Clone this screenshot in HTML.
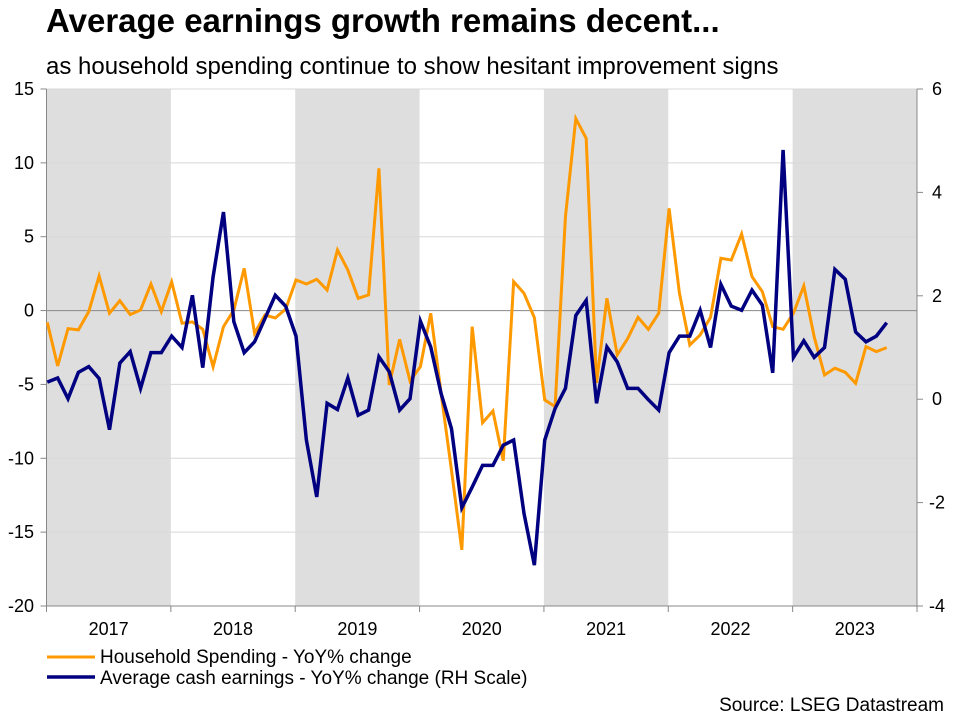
<!DOCTYPE html>
<html><head><meta charset="utf-8">
<style>
body{margin:0;background:#fff;width:954px;height:716px;overflow:hidden;font-family:"Liberation Sans",Arial,sans-serif;}
svg{position:absolute;left:0;top:0}
</style></head>
<body>
<svg id="c" width="954" height="716">
<text x="46" y="32" font-size="33" font-weight="bold" fill="#000">Average earnings growth remains decent...</text>
<text x="46" y="74" font-size="24" fill="#000">as household spending continue to show hesitant improvement signs</text>
<g id="bands"></g><g id="grid"></g><g id="axes"></g><g id="series"></g>
<g>
<line x1="47" y1="657" x2="95" y2="657" stroke="#ff9900" stroke-width="3"/>
<text x="100" y="663" font-size="19">Household Spending - YoY% change</text>
<line x1="47" y1="677" x2="95" y2="677" stroke="#000080" stroke-width="3.5"/>
<text x="100" y="684" font-size="19">Average cash earnings - YoY% change (RH Scale)</text>
</g>
<text x="944" y="711" font-size="19" text-anchor="end">Source: LSEG Datastream</text>
</svg>
<script>
const years=["2017","2018","2019","2020","2021","2022","2023"];
const leftTicks=[15,10,5,0,-5,-10,-15,-20];
const rightTicks=[6,4,2,0,-2,-4];
const spending=[-0.8,-3.75,-1.22,-1.31,-0.07,2.34,-0.18,0.67,-0.27,0.04,1.8,-0.07,1.94,-0.86,-0.77,-1.27,-3.8,-1.09,0.04,2.86,-1.54,-0.3,-0.5,0.1,2.07,1.8,2.12,1.39,4.1,2.75,0.83,1.06,9.63,-5.04,-1.95,-4.77,-3.8,-0.18,-5.6,-10.8,-16.2,-1.09,-7.59,-6.8,-10.16,1.96,1.17,-0.48,-6.05,-6.5,6.36,13.0,11.66,-4.9,0.83,-3.0,-1.9,-0.46,-1.27,-0.18,6.92,1.17,-2.33,-1.65,-0.46,3.54,3.42,5.19,2.3,1.28,-1.09,-1.27,-0.18,1.67,-1.77,-4.36,-3.9,-4.18,-4.92,-2.44,-2.78,-2.51];
const earnings=[0.33,0.41,0.01,0.52,0.63,0.4,-0.59,0.7,0.92,0.21,0.9,0.9,1.22,1.0,2.01,0.61,2.37,3.62,1.5,0.9,1.11,1.56,2.01,1.8,1.22,-0.79,-1.89,-0.08,-0.2,0.41,-0.31,-0.21,0.82,0.53,-0.21,0.01,1.51,1.01,0.11,-0.57,-2.1,-1.7,-1.28,-1.28,-0.89,-0.79,-2.21,-3.21,-0.79,-0.18,0.21,1.62,1.91,-0.08,1.01,0.72,0.21,0.21,-0.01,-0.21,0.9,1.22,1.22,1.72,1.0,2.22,1.8,1.72,2.11,1.82,0.51,4.82,0.81,1.13,0.81,1.0,2.51,2.32,1.3,1.11,1.22,1.48];
const NS="http://www.w3.org/2000/svg";
const L=46.5,R=917,T=89,B=606,yearW=(R-L)/7,monW=yearW/12;
const xS=i=>47.3+i*monW;
const yL=v=>T+(15-v)/35*(B-T);
const yR=v=>T+(6-v)/10*(B-T);
function mk(tag,attrs,parent){const e=document.createElementNS(NS,tag);for(const k in attrs)e.setAttribute(k,attrs[k]);document.getElementById(parent).appendChild(e);return e;}
years.forEach((y,i)=>{
  if(i%2==0){const r=mk('rect',{x:L+i*yearW,y:T,width:yearW,height:B-T,fill:'#dedede'},'bands');
  
  }
  const t=mk('text',{x:L+(i+0.5)*yearW,y:635,'font-size':18,'text-anchor':'middle'},'axes');t.textContent=y;
  
  
  mk('line',{x1:L+i*yearW,y1:B,x2:L+i*yearW,y2:B+6,stroke:'#888'},'axes');
});
mk('line',{x1:R,y1:B,x2:R,y2:B+6,stroke:'#888'},'axes');
leftTicks.forEach(v=>{
  const y=yL(v);
  mk('line',{x1:L,y1:y,x2:R,y2:y,stroke:v==0?'#888':'#d8d8d8','stroke-width':1},'grid');
  mk('line',{x1:L-6,y1:y,x2:L,y2:y,stroke:'#888'},'axes');
  const t=mk('text',{x:34,y:y+6,'font-size':18,'text-anchor':'end'},'axes');t.textContent=v;
  
  
});
rightTicks.forEach(v=>{
  const y=yR(v);
  mk('line',{x1:R,y1:y,x2:R+6,y2:y,stroke:'#888'},'axes');
  const t=mk('text',{x:937,y:y+6,'font-size':18,'text-anchor':'middle'},'axes');t.textContent=v;
  
  
});
mk('line',{x1:L,y1:T,x2:L,y2:B,stroke:'#888'},'axes');
mk('line',{x1:R,y1:T,x2:R,y2:B,stroke:'#888'},'axes');
mk('line',{x1:L,y1:B,x2:R,y2:B,stroke:'#888'},'axes');
const p1=mk('polyline',{points:spending.map((v,i)=>xS(i)+','+yL(v)).join(' '),fill:'none',stroke:'#ff9900','stroke-width':3,'stroke-linejoin':'miter'},'series');


const p2=mk('polyline',{points:earnings.map((v,i)=>xS(i)+','+yR(v)).join(' '),fill:'none',stroke:'#000080','stroke-width':3.5,'stroke-linejoin':'miter'},'series');


</script>
</body></html>
